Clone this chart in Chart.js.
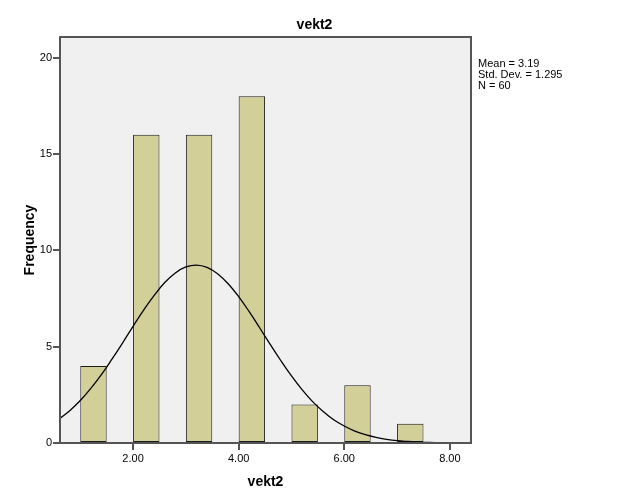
<!DOCTYPE html>
<html>
<head>
<meta charset="utf-8">
<script src="https://cdn.jsdelivr.net/npm/chart.js@4.4.1/dist/chart.umd.min.js"></script>
<style>
  html, body { margin: 0; padding: 0; background: #fff; }
  #wrap { width: 629px; height: 504px; position: relative; }
</style>
</head>
<body>
<div id="wrap"><canvas id="hist"></canvas></div>
<script>
// histogram bins (lower edge .. upper edge) and counts
const binStart = [1.0, 2.0, 3.0, 4.0, 5.0, 6.0, 7.0];
const binEnd   = [1.5, 2.5, 3.5, 4.5, 5.5, 6.5, 7.5];
const counts   = [4, 16, 16, 18, 2, 3, 1];

// normal curve
const curveX = [0.6, 0.8, 1.0, 1.2, 1.4, 1.6, 1.8, 2.0, 2.2, 2.4, 2.6, 2.8, 3.0, 3.2,
                3.4, 3.6, 3.8, 4.0, 4.2, 4.4, 4.6, 4.8, 5.0, 5.2, 5.4, 5.6, 5.8, 6.0,
                6.2, 6.4, 6.6, 6.8, 7.0, 7.2, 7.4, 7.6, 7.8, 8.0, 8.2, 8.4];
const curveY = [1.25, 1.68, 2.21, 2.84, 3.55, 4.35, 5.19, 6.06, 6.90, 7.67, 8.33, 8.83, 9.14, 9.24,
                9.12, 8.79, 8.27, 7.60, 6.82, 5.97, 5.11, 4.27, 3.48, 2.77, 2.15, 1.64, 1.21, 0.88,
                0.62, 0.43, 0.29, 0.19, 0.12, 0.08, 0.05, 0.03, 0.02, 0.01, 0.0, 0.0];

const yTicks = [0, 5, 10, 15, 20];
const xTicks = [2, 4, 6, 8];
const chartTitle = "vekt2";
const statsText = ["Mean = 3.19", "Std. Dev. = 1.295", "N = 60"];

const FONT = "'Liberation Sans', Arial, sans-serif";
const C = {
  bar: "#D3CF98",
  barEdge: "#1a1a1a",
  plotBg: "#F0F0F0",
  frame: "#555555",
  text: "#000000"
};

// plot background + frame + title (centred on the whole page, like SPSS) + stats box
const frame = {
  id: "frame",
  beforeDraw(chart) {
    const { ctx, chartArea: a } = chart;
    ctx.save();
    ctx.fillStyle = C.plotBg;
    ctx.fillRect(a.left, a.top, a.right - a.left, a.bottom - a.top);
    ctx.restore();
  },
  afterDraw(chart) {
    const { ctx, chartArea: a } = chart;
    ctx.save();
    ctx.strokeStyle = C.frame;
    ctx.lineWidth = 2;
    ctx.strokeRect(a.left, a.top, a.right - a.left, a.bottom - a.top);

    ctx.fillStyle = C.text;
    ctx.font = "bold 14px " + FONT;
    ctx.textAlign = "center";
    ctx.textBaseline = "middle";
    ctx.fillText(chartTitle, chart.width / 2, a.top - 12);

    ctx.font = "11px " + FONT;
    ctx.textAlign = "left";
    ctx.textBaseline = "top";
    statsText.forEach((t, i) => ctx.fillText(t, a.right + 7, a.top + 21 + i * 11));
    ctx.restore();
  }
};

new Chart(document.getElementById("hist"), {
  data: {
    datasets: [
      {
        type: "line",
        data: curveX.map((x, i) => ({ x, y: curveY[i] })),
        borderColor: "#000",
        borderWidth: 1.3,
        pointRadius: 0,
        tension: 0.4,
        fill: false,
        order: 0
      },
      {
        type: "bar",
        data: binStart.map((s, i) => ({ x: (s + binEnd[i]) / 2, y: counts[i] })),
        backgroundColor: C.bar,
        borderColor: C.barEdge,
        borderWidth: 1,
        borderSkipped: false,
        barPercentage: 1,
        categoryPercentage: 0.5,
        order: 1
      }
    ]
  },
  options: {
    responsive: true,
    maintainAspectRatio: false,
    animation: false,
    layout: { padding: { top: 37, right: 158, bottom: 9, left: 18 } },
    plugins: {
      legend: { display: false },
      tooltip: { enabled: false },
      title: { display: false }
    },
    scales: {
      x: {
        type: "linear",
        offset: false,
        min: 0.616,
        max: 8.4,
        afterBuildTicks: s => { s.ticks = xTicks.map(v => ({ value: v })); },
        afterFit: s => { s.height = 52; },
        ticks: {
          color: C.text,
          font: { family: FONT, size: 11 },
          padding: 2,
          maxRotation: 0,
          callback: v => v.toFixed(2)
        },
        grid: { offset: false, drawOnChartArea: false, drawTicks: true, tickLength: 7, color: C.frame, lineWidth: 2 },
        border: { display: false },
        title: {
          display: true,
          text: "vekt2",
          color: C.text,
          font: { family: FONT, size: 14, weight: "bold" },
          padding: { top: 6 }
        }
      },
      y: {
        min: 0,
        max: 21.08,
        afterBuildTicks: s => { s.ticks = yTicks.map(v => ({ value: v })); },
        afterFit: s => { s.width = 42; },
        ticks: {
          color: C.text,
          font: { family: FONT, size: 11 },
          padding: 1
        },
        grid: { drawOnChartArea: false, drawTicks: true, tickLength: 7, color: C.frame, lineWidth: 2 },
        border: { display: false },
        title: {
          display: true,
          text: "Frequency",
          color: C.text,
          font: { family: FONT, size: 14, weight: "bold" },
          padding: { bottom: 6 }
        }
      }
    }
  },
  plugins: [frame]
});
</script>
</body>
</html>
